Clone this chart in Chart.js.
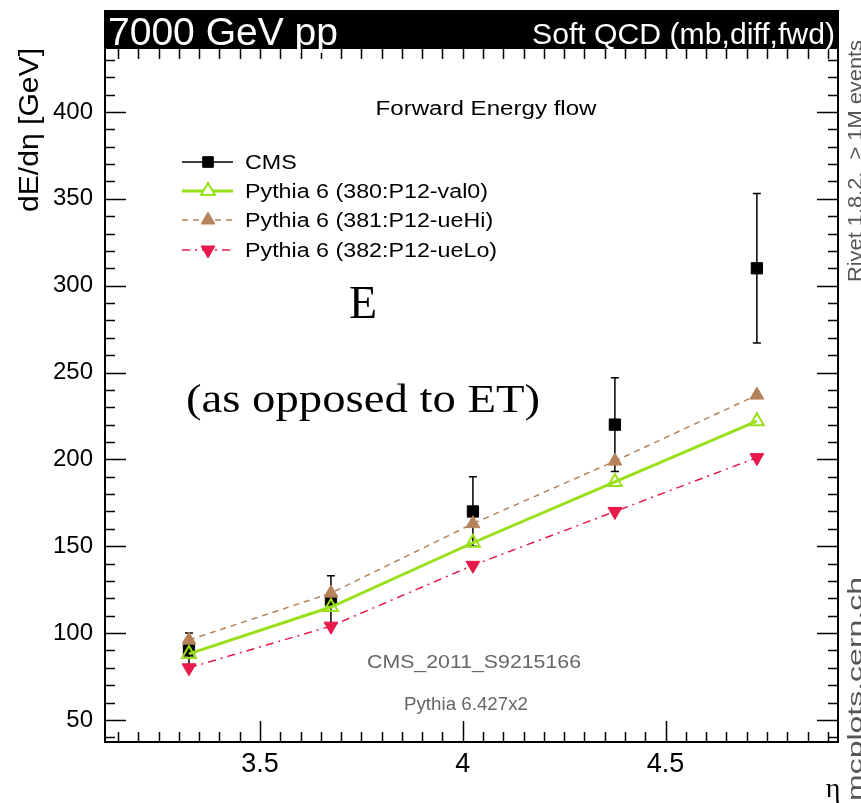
<!DOCTYPE html>
<html>
<head>
<meta charset="utf-8">
<script src="https://cdn.jsdelivr.net/npm/chart.js@4"></script>
<style>
  body { margin: 0; background: #fff; }
</style>
</head>
<body>
<canvas id="chart" width="861" height="803"></canvas>
<script>
// Data
const etaBins = [3.325, 3.675, 4.025, 4.375, 4.725];
const cmsValues = [90, 119, 170, 220, 310];
const cmsErrors = [10, 14, 20, 27, 43];
const val0Values = [88, 115, 152, 187, 222];
const ueHiValues = [96, 123, 163, 199, 237];
const ueLoValues = [80, 104, 139, 170, 201];
const xTickValues = [3.5, 4, 4.5];
const yTickValues = [50, 100, 150, 200, 250, 300, 350, 400];

const GREEN = "#99e01a";
const BROWN = "#b5835a";
const RED = "#e8194b";
const SANS = "'Liberation Sans', Arial, Helvetica, sans-serif";
const SERIF = "'Liberation Serif', 'Times New Roman', serif";

function points(values) {
  return etaBins.map((x, i) => ({ x: x, y: values[i] }));
}

// draw text with a horizontal stretch factor (1 = normal)
function fitText(ctx, text, x, y, size, width, align, font) {
  ctx.save();
  ctx.font = size + "px " + (font || SANS);
  const w = ctx.measureText(text).width;
  const s = width ? width / w : 1;
  ctx.translate(x, y);
  ctx.scale(s, 1);
  ctx.textAlign = align || "left";
  ctx.fillText(text, 0, 0);
  ctx.restore();
  return s;
}

// CMS error bars
const errorBars = {
  id: "errorBars",
  beforeDatasetsDraw(chart) {
    const ctx = chart.ctx;
    const xs = chart.scales.x;
    const ys = chart.scales.y;
    ctx.save();
    ctx.strokeStyle = "#000";
    ctx.lineWidth = 1.5;
    etaBins.forEach((eta, i) => {
      const px = xs.getPixelForValue(eta);
      const top = ys.getPixelForValue(cmsValues[i] + cmsErrors[i]);
      const bot = ys.getPixelForValue(cmsValues[i] - cmsErrors[i]);
      ctx.beginPath();
      ctx.moveTo(px, top);
      ctx.lineTo(px, bot);
      ctx.moveTo(px - 4, top);
      ctx.lineTo(px + 4, top);
      ctx.moveTo(px - 4, bot);
      ctx.lineTo(px + 4, bot);
      ctx.stroke();
    });
    ctx.restore();
  },
};

// frame, inward ticks, header, legend and labels
const decorations = {
  id: "decorations",
  afterDraw(chart) {
    const ctx = chart.ctx;
    const a = chart.chartArea;
    const xs = chart.scales.x;
    const ys = chart.scales.y;

    ctx.save();
    ctx.strokeStyle = "#000";
    ctx.lineWidth = 1.5;
    ctx.beginPath();
    // y ticks (left and right)
    for (let v = 40; v <= 430; v += 10) {
      const py = Math.round(ys.getPixelForValue(v)) + 0.5;
      const len = v % 50 === 0 ? 21 : 10;
      ctx.moveTo(a.left, py);
      ctx.lineTo(a.left + len, py);
      ctx.moveTo(a.right, py);
      ctx.lineTo(a.right - len, py);
    }
    // x ticks (bottom and top)
    for (let k = 0; k <= 35; k++) {
      const v = 3.15 + k * 0.05;
      const px = Math.round(xs.getPixelForValue(v)) + 0.5;
      const major = Math.abs(v * 2 - Math.round(v * 2)) < 1e-6;
      ctx.moveTo(px, a.bottom);
      ctx.lineTo(px, a.bottom - (major ? 21 : 10));
      ctx.moveTo(px, a.top);
      ctx.lineTo(px, a.top + 11);
    }
    ctx.stroke();
    ctx.lineWidth = 2;
    ctx.strokeRect(a.left, a.top, a.right - a.left, a.bottom - a.top);

    // header band
    ctx.fillStyle = "#000";
    ctx.fillRect(a.left - 1, 10, a.right - a.left + 2, a.top - 10);
    ctx.fillStyle = "#fff";
    ctx.textBaseline = "alphabetic";
    fitText(ctx, "7000 GeV pp", 108, 45, 39, 230, "left");
    fitText(ctx, "Soft QCD (mb,diff,fwd)", 835, 44, 30, 303, "right");

    // plot annotations
    ctx.fillStyle = "#000";
    fitText(ctx, "Forward Energy flow", 486, 115, 20, 221, "center");
    fitText(ctx, "E", 363, 318, 46, null, "center", SERIF);
    fitText(ctx, "(as opposed to ET)", 363, 412, 40, 354, "center", SERIF);
    ctx.fillStyle = "#666";
    fitText(ctx, "CMS_2011_S9215166", 474, 668, 19, 214, "center");
    fitText(ctx, "Pythia 6.427x2", 466, 710, 19, 124, "center");

    // legend
    const rows = [
      { label: "CMS", color: "#000", width: 1.5, dash: [], style: "rect", fill: true, rot: 0 },
      { label: "Pythia 6 (380:P12-val0)", color: GREEN, width: 3, dash: [], style: "triangle", fill: false, rot: 0 },
      { label: "Pythia 6 (381:P12-ueHi)", color: BROWN, width: 1.5, dash: [6, 5], style: "triangle", fill: true, rot: 0 },
      { label: "Pythia 6 (382:P12-ueLo)", color: RED, width: 1.5, dash: [8, 5, 2, 5], style: "triangle", fill: true, rot: 180 },
    ];
    const rowY = [162, 191, 220, 250];
    ctx.font = "20px " + SANS;
    const legendStretch = 243 / ctx.measureText(rows[1].label).width;
    rows.forEach((r, i) => {
      const y = rowY[i];
      ctx.save();
      ctx.strokeStyle = r.color;
      ctx.lineWidth = r.width;
      ctx.setLineDash(r.dash);
      ctx.beginPath();
      ctx.moveTo(182, y);
      ctx.lineTo(233, y);
      ctx.stroke();
      ctx.setLineDash([]);
      ctx.fillStyle = r.fill ? r.color : "#fff";
      ctx.strokeStyle = r.color;
      ctx.lineWidth = r.fill ? 1 : 2;
      Chart.helpers.drawPoint(ctx, {
        pointStyle: r.style,
        radius: r.style === "rect" ? 7.5 : 8,
        rotation: r.rot,
        borderWidth: r.fill ? 1 : 2,
      }, 208, y);
      ctx.restore();
      ctx.fillStyle = "#000";
      ctx.font = "20px " + SANS;
      const w = ctx.measureText(r.label).width * legendStretch;
      fitText(ctx, r.label, 245, y + 7, 20, w, "left");
    });

    // side labels
    ctx.fillStyle = "#555";
    ctx.save();
    ctx.translate(862, 282);
    ctx.rotate(-Math.PI / 2);
    fitText(ctx, "Rivet 1.8.2,  > 1M events", 0, 0, 20, 242, "left");
    ctx.restore();
    ctx.save();
    ctx.translate(862, 801);
    ctx.rotate(-Math.PI / 2);
    fitText(ctx, "mcplots.cern.ch", 0, 0, 20, 224, "left");
    ctx.restore();

    // axis titles
    ctx.fillStyle = "#000";
    ctx.save();
    ctx.translate(38, 212);
    ctx.rotate(-Math.PI / 2);
    fitText(ctx, "dE/d\u03b7 [GeV]", 0, 0, 27, 164, "left");
    ctx.restore();
    fitText(ctx, "\u03b7", 833, 797, 28, null, "center", SERIF);
    ctx.restore();
  },
};

const ctx = document.getElementById("chart").getContext("2d");
const chart = new Chart(ctx, {
  type: "scatter",
  data: {
    datasets: [
      {
        label: "CMS",
        data: points(cmsValues),
        showLine: false,
        pointStyle: "rect",
        pointRadius: 8,
        backgroundColor: "#000",
        borderColor: "#000",
        borderWidth: 1,
        order: 4,
      },
      {
        label: "Pythia 6 (380:P12-val0)",
        data: points(val0Values),
        showLine: true,
        borderColor: GREEN,
        borderWidth: 3,
        pointStyle: "triangle",
        pointRadius: 8,
        pointBorderWidth: 2,
        pointBackgroundColor: "rgba(0,0,0,0)",
        pointBorderColor: GREEN,
        order: 1,
      },
      {
        label: "Pythia 6 (381:P12-ueHi)",
        data: points(ueHiValues),
        showLine: true,
        borderColor: BROWN,
        borderWidth: 1.5,
        borderDash: [6, 5],
        pointStyle: "triangle",
        pointRadius: 8,
        pointBorderWidth: 1,
        pointBackgroundColor: BROWN,
        pointBorderColor: BROWN,
        order: 2,
      },
      {
        label: "Pythia 6 (382:P12-ueLo)",
        data: points(ueLoValues),
        showLine: true,
        borderColor: RED,
        borderWidth: 1.5,
        borderDash: [8, 5, 2, 5],
        pointStyle: "triangle",
        pointRotation: 180,
        pointRadius: 8,
        pointBorderWidth: 1,
        pointBackgroundColor: RED,
        pointBorderColor: RED,
        order: 3,
      },
    ],
  },
  options: {
    responsive: false,
    animation: false,
    layout: {
      autoPadding: false,
      padding: { left: 0, right: 23, top: 48, bottom: 0 },
    },
    plugins: {
      legend: { display: false },
      tooltip: { enabled: false },
    },
    scales: {
      x: {
        type: "linear",
        min: 3.118,
        max: 4.925,
        afterFit(scale) {
          scale.height = 61;
        },
        afterBuildTicks(scale) {
          scale.ticks = xTickValues.map((v) => ({ value: v }));
        },
        grid: { display: false, drawTicks: false },
        border: { display: false },
        ticks: {
          color: "#000",
          padding: 6,
          maxRotation: 0,
          font: { family: SANS, size: 27 },
          callback: (v) => String(v),
        },
      },
      y: {
        type: "linear",
        min: 37.3,
        max: 436.8,
        afterFit(scale) {
          scale.width = 105;
        },
        afterBuildTicks(scale) {
          scale.ticks = yTickValues.map((v) => ({ value: v }));
        },
        grid: { display: false, drawTicks: false },
        border: { display: false },
        ticks: {
          color: "#000",
          padding: 12,
          font: { family: SANS, size: 24 },
        },
      },
    },
  },
  plugins: [errorBars, decorations],
});
</script>
</body>
</html>
